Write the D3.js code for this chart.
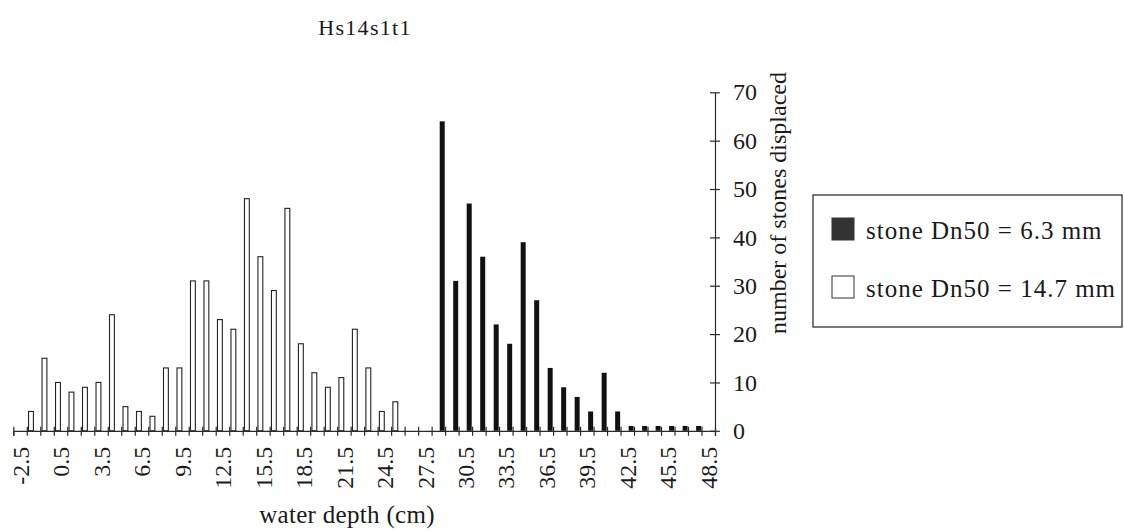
<!DOCTYPE html>
<html>
<head>
<meta charset="utf-8">
<script src="https://cdn.jsdelivr.net/npm/d3@7"></script>
<style>
  html, body { margin: 0; padding: 0; background: #fff; }
  svg { display: block; }
  text { font-family: "Liberation Serif", "DejaVu Serif", "Times New Roman", serif; fill: #1a1a1a; }
</style>
</head>
<body>
<script>
// ---- data ----
const categories = [
  "-2.5","-1.5","-0.5","0.5","1.5","2.5","3.5","4.5","5.5","6.5",
  "7.5","8.5","9.5","10.5","11.5","12.5","13.5","14.5","15.5","16.5",
  "17.5","18.5","19.5","20.5","21.5","22.5","23.5","24.5","25.5","26.5",
  "27.5","28.5","29.5","30.5","31.5","32.5","33.5","34.5","35.5","36.5",
  "37.5","38.5","39.5","40.5","41.5","42.5","43.5","44.5","45.5","46.5",
  "47.5","48.5"
];
const tickLabels = ["-2.5","0.5","3.5","6.5","9.5","12.5","15.5","18.5","21.5","24.5",
  "27.5","30.5","33.5","36.5","39.5","42.5","45.5","48.5"];
const seriesNames = ["stone Dn50 = 6.3 mm", "stone Dn50 = 14.7 mm"];
// stone Dn50 = 14.7 mm (white bars)
const whiteValues = [
  0, 4, 15, 10, 8, 9, 10, 24, 5, 4,
  3, 13, 13, 31, 31, 23, 21, 48, 36, 29,
  46, 18, 12, 9, 11, 21, 13, 4, 6, 0,
  0, 0, 0, 0, 0, 0, 0, 0, 0, 0,
  0, 0, 0, 0, 0, 0, 0, 0, 0, 0,
  0, 0
];
// stone Dn50 = 6.3 mm (black bars)
const blackValues = [
  0, 0, 0, 0, 0, 0, 0, 0, 0, 0,
  0, 0, 0, 0, 0, 0, 0, 0, 0, 0,
  0, 0, 0, 0, 0, 0, 0, 0, 0, 0,
  0, 64, 31, 47, 36, 22, 18, 39, 27, 13,
  9, 7, 4, 12, 4, 1, 1, 1, 1, 1,
  1, 0
];
const yTicks = [0, 10, 20, 30, 40, 50, 60, 70];

// ---- layout ----
const W = 1124, H = 532;
const svg = d3.select("body").append("svg").attr("width", W).attr("height", H);

const x = d3.scaleBand().domain(categories).range([13.3, 715]).padding(0);
const bw = x.bandwidth();
const xi = d3.scaleLinear().domain([0, categories.length]).range([13.3, 715]);
const y = d3.scaleLinear().domain([0, 70]).range([430.8, 92.3]);

const lineColor = "#2a2a2a";

// bars
const whiteData = categories.map((c, i) => ({c, v: whiteValues[i]})).filter(d => d.v > 0);
const blackData = categories.map((c, i) => ({c, v: blackValues[i]})).filter(d => d.v > 0);

svg.append("g").selectAll("rect").data(whiteData).join("rect")
  .attr("x", d => x(d.c) + 0.13 * bw)
  .attr("width", 0.36 * bw)
  .attr("y", d => y(d.v))
  .attr("height", d => y(0) - y(d.v))
  .attr("fill", "#fff").attr("stroke", "#222").attr("stroke-width", 1.1);

svg.append("g").selectAll("rect").data(blackData).join("rect")
  .attr("x", d => x(d.c) + 0.6 * bw)
  .attr("width", 0.37 * bw)
  .attr("y", d => y(d.v))
  .attr("height", d => y(0) - y(d.v))
  .attr("fill", "#111");

// x axis: boundary ticks crossing the line
const xAxisG = svg.append("g").attr("transform", `translate(0,${y(0)})`)
  .call(d3.axisBottom(xi).tickValues(d3.range(categories.length + 1)).tickSize(5).tickFormat(""));
xAxisG.select(".domain").attr("stroke", lineColor).attr("stroke-width", 1.2);
xAxisG.selectAll(".tick line").attr("y1", -4).attr("y2", 5).attr("stroke", lineColor).attr("stroke-width", 1.2);

// x labels (rotated)
const xLabG = svg.append("g").attr("transform", `translate(0,${y(0)})`)
  .call(d3.axisBottom(x).tickValues(tickLabels).tickSize(0));
xLabG.select(".domain").remove();
xLabG.selectAll(".tick text")
  .attr("transform", "rotate(-90)")
  .attr("text-anchor", "end")
  .attr("x", -16)
  .attr("y", 0)
  .attr("dy", "0.36em")
  .attr("font-size", 24)
  .attr("fill", "#1a1a1a");

// y axis on right
const yAxisG = svg.append("g").attr("transform", "translate(715,0)")
  .call(d3.axisRight(y).tickValues(yTicks).tickSize(5).tickSizeOuter(0).tickPadding(13));
yAxisG.select(".domain").attr("stroke", lineColor).attr("stroke-width", 1.2);
yAxisG.selectAll(".tick line").attr("x1", -5).attr("x2", 5).attr("stroke", lineColor).attr("stroke-width", 1.2);
yAxisG.selectAll(".tick text")
  .attr("font-size", 24)
  .attr("fill", "#1a1a1a");

// titles
svg.append("text").attr("x", 365).attr("y", 35).attr("text-anchor", "middle")
  .attr("font-size", 22).attr("letter-spacing", 1.3).text("Hs14s1t1");

svg.append("text").attr("x", 347).attr("y", 523).attr("text-anchor", "middle")
  .attr("font-size", 25).attr("letter-spacing", 0.3).text("water depth (cm)");

svg.append("text").attr("transform", "translate(786,203) rotate(-90)")
  .attr("text-anchor", "middle").attr("font-size", 24).text("number of stones displaced");

// legend
const lg = svg.append("g");
lg.append("rect").attr("x", 813).attr("y", 195).attr("width", 309).attr("height", 132)
  .attr("fill", "#fff").attr("stroke", "#222").attr("stroke-width", 1.2);
const legendItems = [
  {name: seriesNames[0], fill: "#333", y: 218},
  {name: seriesNames[1], fill: "#fff", y: 276}
];
legendItems.forEach(it => {
  lg.append("rect").attr("x", 832).attr("y", it.y).attr("width", 22).attr("height", 22)
    .attr("fill", it.fill).attr("stroke", "#333").attr("stroke-width", 1);
  lg.append("text").attr("x", 866).attr("y", it.y + 21).attr("font-size", 25)
    .attr("letter-spacing", 1).text(it.name);
});
</script>
</body>
</html>
